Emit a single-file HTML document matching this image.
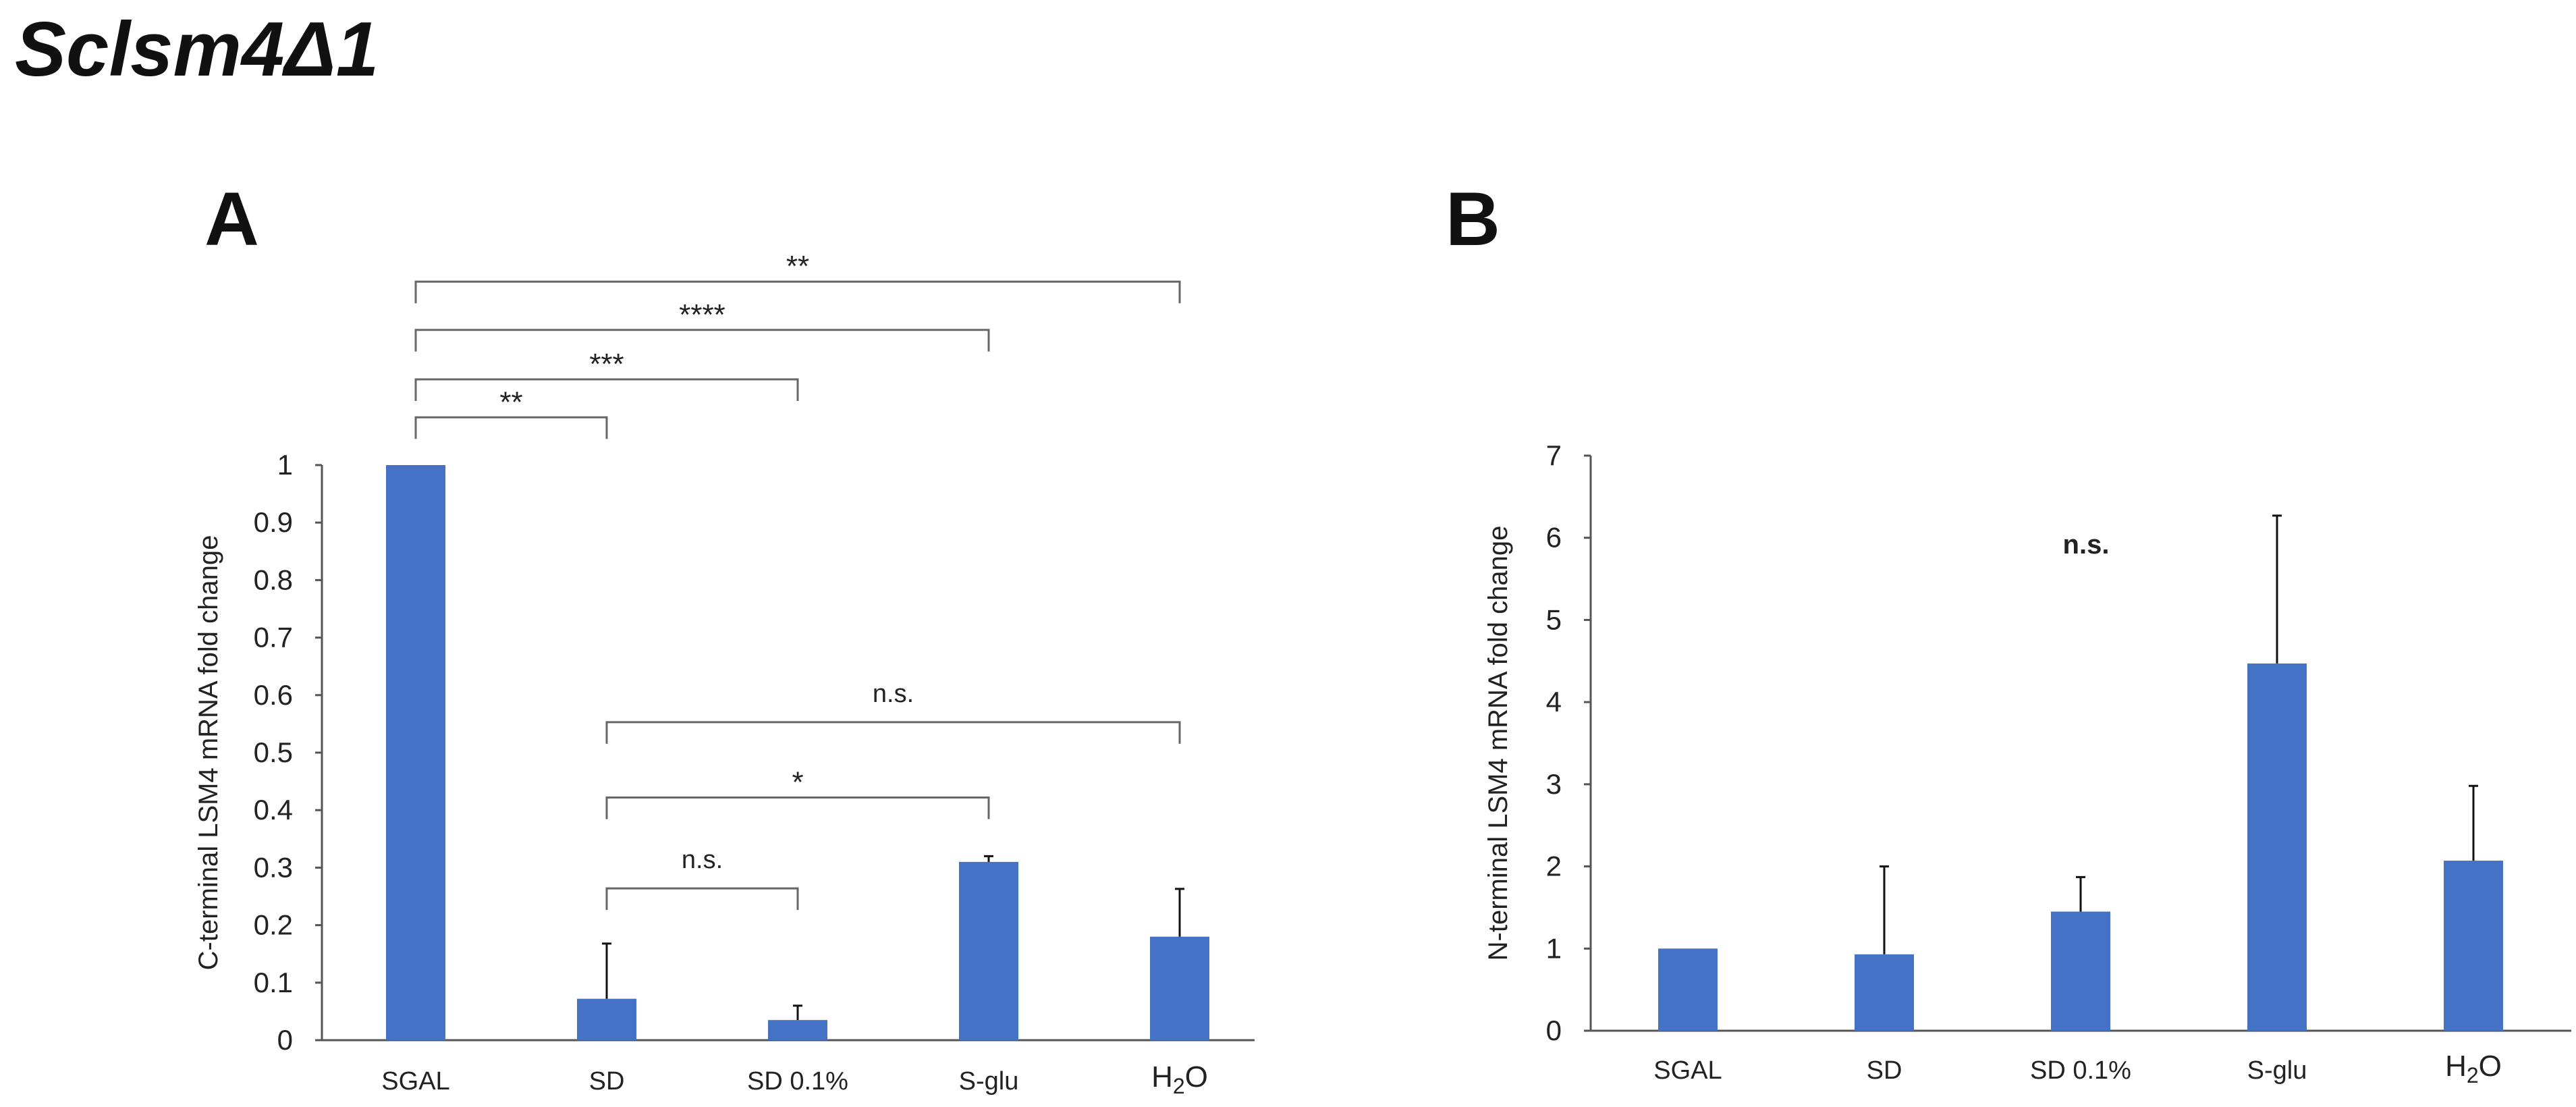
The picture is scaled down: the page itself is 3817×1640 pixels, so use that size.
<!DOCTYPE html>
<html><head><meta charset="utf-8"><style>
html,body{margin:0;padding:0;background:#fff}
svg{display:block}
text{font-family:"Liberation Sans",sans-serif;fill:#222}
</style></head><body>
<svg id="fig" width="3817" height="1640" viewBox="0 0 3817 1640" xmlns="http://www.w3.org/2000/svg">
<text x="22" y="112" font-size="114" font-weight="bold" font-style="italic" style="fill:#111">Sclsm4Δ1</text>
<text x="303" y="363" font-size="112" font-weight="bold" style="fill:#111">A</text>
<text x="2142" y="363" font-size="112" font-weight="bold" style="fill:#111">B</text>
<g id="gA"></g>
<g id="gB"></g>
</svg>
<script>
const categories = ["SGAL","SD","SD 0.1%","S-glu","H2O"];
const valuesA = [1.0, 0.072, 0.035, 0.31, 0.18];
const errTopA = [1.0, 0.168, 0.060, 0.320, 0.263];
const ticksA = ["0","0.1","0.2","0.3","0.4","0.5","0.6","0.7","0.8","0.9","1"];
const valuesB = [1.0, 0.93, 1.45, 4.47, 2.07];
const errTopB = [1.0, 2.0, 1.87, 6.27, 2.98];
const ticksB = ["0","1","2","3","4","5","6","7"];
const bracketFrom = [0,0,0,0,1,1,1];
const bracketTo = [4,3,2,1,4,3,2];
const bracketLevel = [1.319, 1.235, 1.149, 1.083, 0.553, 0.422, 0.264];
const bracketText = ["**","****","***","**","n.s.","*","n.s."];

const NS="http://www.w3.org/2000/svg";
function mk(parent, tag, attrs){const e=document.createElementNS(NS,tag);for(const k in attrs)e.setAttribute(k,attrs[k]);parent.appendChild(e);return e;}

function chart(g, cfg){
  const y = v => cfg.y0 + (cfg.y1 - cfg.y0) * v / cfg.max;
  const x = i => cfg.xStart + cfg.step * i;
  let ax = mk(g,'line',{x1:cfg.ax,y1:cfg.y1,x2:cfg.ax,y2:cfg.y0,stroke:'#555','stroke-width':3});
  
  
  let bx = mk(g,'line',{x1:cfg.ax,y1:cfg.y0,x2:cfg.axEnd,y2:cfg.y0,stroke:'#555','stroke-width':3});
  
  
  cfg.ticks.forEach((t,i)=>{
    const v = parseFloat(t), yy=y(v);
    let tk = mk(g,'line',{x1:cfg.ax-10,y1:yy,x2:cfg.ax,y2:yy,stroke:'#555','stroke-width':3});
    
    
    let tl = mk(g,'text',{x:cfg.ax-43,y:yy+14,'font-size':42,'text-anchor':'end'});
    tl.textContent=t;
    
    
  });
  let yt = mk(g,'text',{x:0,y:0,'font-size':40,'text-anchor':'middle',transform:`translate(${cfg.titleX},${(cfg.y0+cfg.y1)/2}) rotate(-90)`});
  yt.textContent=cfg.title;
  
  
  categories.forEach((c,i)=>{
    const cx=x(i), bw=88;
    let r = mk(g,'rect',{x:cx-bw/2,y:y(cfg.vals[i]),width:bw,height:cfg.y0-y(cfg.vals[i]),fill:'#4472c4'});
    
    
    if(cfg.err[i]>cfg.vals[i]){
      let e = mk(g,'path',{d:`M${cx},${y(cfg.vals[i])}V${y(cfg.err[i])}M${cx-7},${y(cfg.err[i])}H${cx+7}`,stroke:'#111','stroke-width':3,fill:'none'});
      
      
    }
    let l = mk(g,'text',{x:cx,y:cfg.labY,'font-size':c==="H2O"?44:38,'text-anchor':'middle'});
    if(c==="H2O"){l.innerHTML='H<tspan font-size="32" dy="10">2</tspan><tspan dy="-10">O</tspan>';l.setAttribute('y',cfg.labY-4);}
    else l.textContent=c;
    
    
  });
  return {x,y};
}

const A = chart(document.getElementById('gA'),{y0:1541,y1:689,max:1,ax:477,axEnd:1859,xStart:616,step:283,ticks:ticksA,vals:valuesA,err:errTopA,title:"C-terminal LSM4  mRNA fold change",titleX:322,labY:1614});
const gA=document.getElementById('gA');
bracketFrom.forEach((f,i)=>{
  const x1=A.x(f), x2=A.x(bracketTo[i]), yy=A.y(bracketLevel[i]);
  let b = mk(gA,'path',{d:`M${x1},${yy+32}V${yy}H${x2}V${yy+32}`,stroke:'#666','stroke-width':3,fill:'none'});
  
  
  const isStar = bracketText[i].indexOf('*')===0;
  let t = mk(gA,'text',{x:(x1+x2)/2,y:isStar?yy-8:yy-30,'font-size':isStar?44:38,'text-anchor':'middle'});
  t.textContent=bracketText[i];
  
  
});

const B = chart(document.getElementById('gB'),{y0:1527,y1:675,max:7,ax:2357,axEnd:3810,xStart:2501,step:291,ticks:ticksB,vals:valuesB,err:errTopB,title:"N-terminal LSM4  mRNA fold change",titleX:2233,labY:1598});
let ns = mk(document.getElementById('gB'),'text',{x:3091,y:820,'font-size':40,'font-weight':'bold','text-anchor':'middle'});
ns.textContent='n.s.';


</script>
</body></html>
